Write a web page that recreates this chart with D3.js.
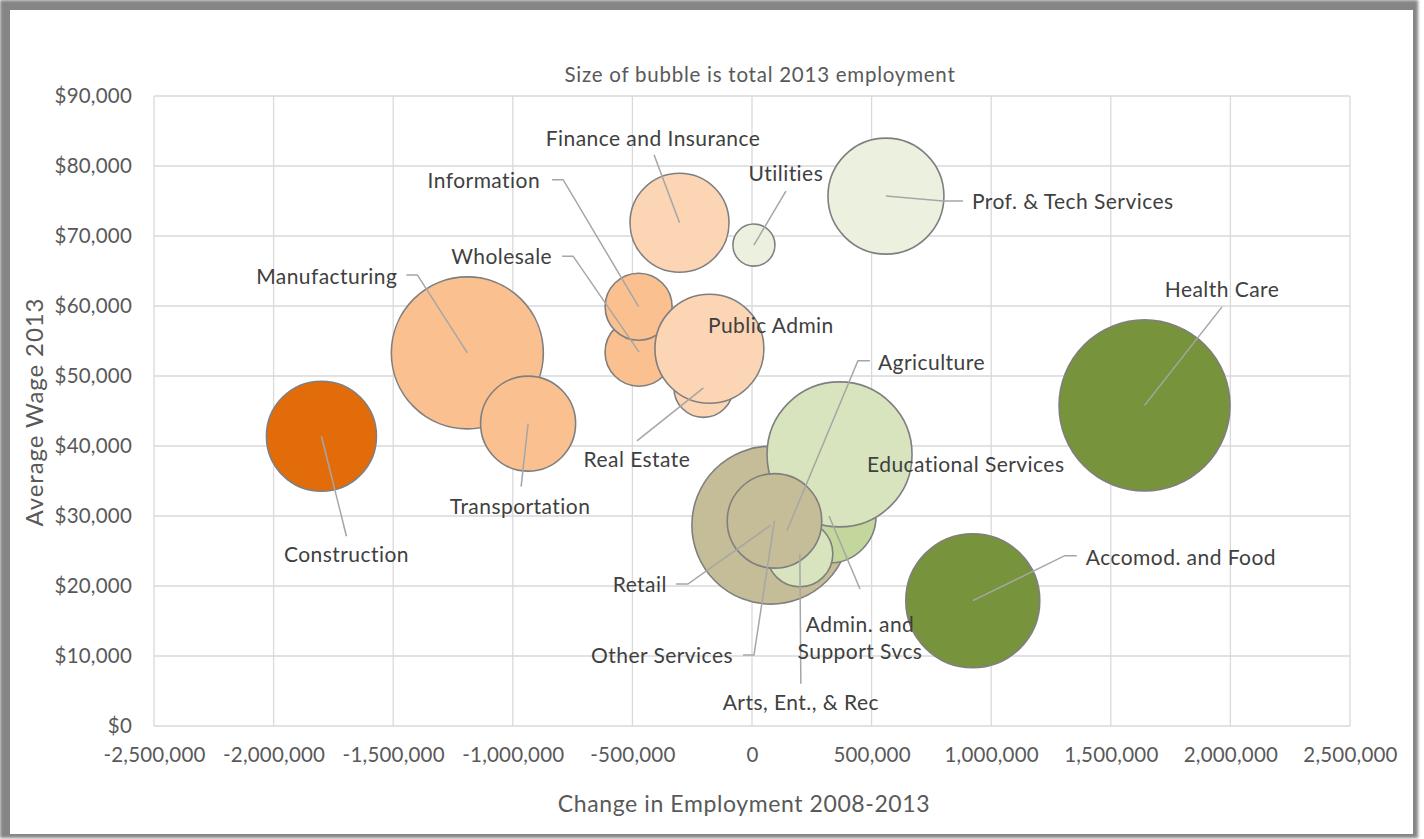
<!DOCTYPE html>
<html>
<head>
<meta charset="utf-8">
<script src="https://cdn.jsdelivr.net/npm/d3@7"></script>
<style>
  body { margin: 0; background: #fff; }
  svg text { font-family: "Lato", "Open Sans", sans-serif; }
</style>
</head>
<body>
<div id="chart"></div>
<script>

// data, in drawing order (back to front)
var industries = ["Construction", "Manufacturing", "Transportation", "Wholesale", "Information",
  "Real Estate", "Public Admin", "Finance and Insurance", "Utilities", "Prof. & Tech Services",
  "Agriculture", "Retail", "Admin. and Support Svcs", "Educational Services", "Arts, Ent., & Rec",
  "Other Services", "Health Care", "Accomod. and Food"];

var employmentChange = [-1800000, -1190000, -936000, -472000, -474000,
  -203000, -178000, -303000, 8000, 560000,
  146000, 79000, 322000, 366000, 200000,
  94000, 1641000, 923000];

var averageWage = [41400, 53300, 43200, 53400, 59900,
  48300, 53900, 71900, 68700, 75700,
  27900, 28700, 30000, 38800, 24600,
  29300, 45800, 17900];

// total 2013 employment (thousands)
var employment2013 = [7450, 14220, 5560, 2850, 2760,
  2140, 7310, 6030, 1090, 8280,
  1200, 15370, 5440, 12940, 2680,
  5500, 18000, 11050];

var xTicks = [-2500000, -2000000, -1500000, -1000000, -500000, 0, 500000, 1000000, 1500000, 2000000, 2500000];
var yTicks = [0, 10000, 20000, 30000, 40000, 50000, 60000, 70000, 80000, 90000];

// styles
var fillColors = {
  "Construction": "#e36c0a", "Manufacturing": "#fac090", "Transportation": "#fac090",
  "Wholesale": "#fac090", "Information": "#fac090", "Real Estate": "#fcd5b5",
  "Public Admin": "#fcd5b5", "Finance and Insurance": "#fcd5b5", "Utilities": "#ebf1de",
  "Prof. & Tech Services": "#ebf1de", "Agriculture": "#d7e4bd", "Retail": "#c4bd97",
  "Admin. and Support Svcs": "#c3d69b", "Educational Services": "#d7e4bd",
  "Arts, Ent., & Rec": "#d7e4bd", "Other Services": "#c4bd97",
  "Health Care": "#77933c", "Accomod. and Food": "#77933c"
};

// label placement: offsets (px) from the bubble centre; leader = bend points toward the label
var labelLayout = {
  "Construction": { dx: 25, dy: 126, anchor: "middle", leader: [[25, 100]] },
  "Manufacturing": { dx: -70, dy: -69, anchor: "end", leader: [[-50, -78], [-61, -78]] },
  "Transportation": { dx: -8, dy: 90, anchor: "middle", leader: [[-7, 63]] },
  "Wholesale": { dx: -87, dy: -88, anchor: "end", leader: [[-66, -96], [-77, -96]] },
  "Information": { dx: -98.5, dy: -119, anchor: "end", leader: [[-75.5, -127], [-86.5, -127]] },
  "Real Estate": { dx: -66.5, dy: 79, anchor: "middle", leader: [[-66.5, 53]] },
  "Public Admin": { dx: -1.5, dy: -15.5, anchor: "start", leader: [] },
  "Finance and Insurance": { dx: -26.5, dy: -77, anchor: "middle", leader: [[-25.5, -68]] },
  "Utilities": { dx: 32, dy: -64, anchor: "middle", leader: [[32, -54]] },
  "Prof. & Tech Services": { dx: 86, dy: 13, anchor: "start", leader: [[57, 5], [77, 5]] },
  "Agriculture": { dx: 91, dy: -161, anchor: "start", leader: [[71, -170], [83, -170]] },
  "Retail": { dx: -104, dy: 67, anchor: "end", leader: [[-83, 59], [-95, 59]] },
  "Admin. and Support Svcs": { dx: 31, dy: 116, anchor: "middle", leader: [[31, 73]], lines: ["Admin. and", "Support Svcs"] },
  "Educational Services": { dx: 27.5, dy: 17.5, anchor: "start", leader: [] },
  "Arts, Ent., & Rec": { dx: 1, dy: 156, anchor: "middle", leader: [[1, 130]] },
  "Other Services": { dx: -41.5, dy: 142, anchor: "end", leader: [[-20.5, 134], [-31.5, 134]] },
  "Health Care": { dx: 77.5, dy: -108.5, anchor: "middle", leader: [[77.5, -98.5]] },
  "Accomod. and Food": { dx: 113, dy: -36, anchor: "start", leader: [[92, -45], [104, -45]] }
};

var width = 1424, height = 839;
var plot = { left: 154, right: 1350, top: 96, bottom: 726 };

var svg = d3.select("#chart").append("svg")
  .attr("width", width).attr("height", height);

// frame with shadow
var defs = svg.append("defs");
defs.append("filter").attr("id", "blur")
  .attr("x", "-1%").attr("y", "-1%").attr("width", "102%").attr("height", "102%")
  .append("feGaussianBlur").attr("stdDeviation", 1.6);
svg.append("rect").attr("x", 0).attr("y", 0).attr("width", 1418).attr("height", 838)
  .attr("fill", "#858585").attr("filter", "url(#blur)");
svg.append("rect").attr("x", 10).attr("y", 10).attr("width", 1403).attr("height", 824)
  .attr("fill", "#ffffff");

var x = d3.scaleLinear().domain([-2500000, 2500000]).range([plot.left, plot.right]);
var y = d3.scaleLinear().domain([0, 90000]).range([plot.bottom, plot.top]);
var r = d3.scaleSqrt().domain([0, d3.max(employment2013)]).range([0, 85.5]);

var numFmt = d3.format(",");
function fmtNum(v) { return numFmt(v).replace("\u2212", "-"); }

// gridlines
var grid = svg.append("g");
grid.selectAll("line.vx").data(xTicks).enter().append("line")
  .attr("x1", function(d) { return x(d); }).attr("x2", function(d) { return x(d); })
  .attr("y1", plot.top).attr("y2", plot.bottom)
  .attr("stroke", "#d9d9d9").attr("stroke-width", 1.3);
grid.selectAll("line.hy").data(yTicks).enter().append("line")
  .attr("x1", plot.left).attr("x2", plot.right)
  .attr("y1", function(d) { return y(d); }).attr("y2", function(d) { return y(d); })
  .attr("stroke", "#d9d9d9").attr("stroke-width", 1.3);

// axes (labels only)
var xAxis = d3.axisBottom(x).tickValues(xTicks).tickFormat(fmtNum).tickSize(0).tickPadding(0);
var gx = svg.append("g").attr("transform", "translate(0," + (plot.bottom + 21) + ")").call(xAxis);
gx.select(".domain").remove();
gx.selectAll("text").attr("font-size", "20.5px").attr("fill", "#595959").attr("dy", "0.71em")
  .attr("letter-spacing", "0.2px");

var yAxis = d3.axisLeft(y).tickValues(yTicks).tickFormat(function(d) { return "$" + fmtNum(d); }).tickSize(0).tickPadding(0);
var gy = svg.append("g").attr("transform", "translate(" + (plot.left - 22) + ",0)").call(yAxis);
gy.select(".domain").remove();
gy.selectAll("text").attr("font-size", "20.5px").attr("fill", "#595959").attr("letter-spacing", "0.2px");

// bubbles
var rows = industries.map(function(name, i) {
  return { name: name, change: employmentChange[i], wage: averageWage[i], emp: employment2013[i] };
});

svg.append("g").selectAll("circle").data(rows).enter().append("circle")
  .attr("cx", function(d) { return x(d.change); })
  .attr("cy", function(d) { return y(d.wage); })
  .attr("r", function(d) { return r(d.emp); })
  .attr("fill", function(d) { return fillColors[d.name]; })
  .attr("stroke", "#7f7f7f").attr("stroke-width", 1.6);

// leader lines
var line = d3.line();
svg.append("g").selectAll("path").data(rows.filter(function(d) { return labelLayout[d.name].leader.length > 0; }))
  .enter().append("path")
  .attr("d", function(d) {
    var cx = x(d.change), cy = y(d.wage);
    var pts = [[cx, cy]].concat(labelLayout[d.name].leader.map(function(p) { return [cx + p[0], cy + p[1]]; }));
    return line(pts);
  })
  .attr("fill", "none").attr("stroke", "#a6a6a6").attr("stroke-width", 1.5);

// data labels
var labels = svg.append("g").selectAll("text").data(rows).enter().append("text")
  .attr("x", function(d) { return x(d.change) + labelLayout[d.name].dx; })
  .attr("y", function(d) { return y(d.wage) + labelLayout[d.name].dy; })
  .attr("text-anchor", function(d) { return labelLayout[d.name].anchor; })
  .attr("font-size", "21px").attr("letter-spacing", "0.45px").attr("fill", "#404040");
labels.each(function(d) {
  var t = d3.select(this);
  var lines = labelLayout[d.name].lines || [d.name];
  lines.forEach(function(s, i) {
    t.append("tspan").attr("x", t.attr("x")).attr("dy", i === 0 ? 0 : 27).text(s);
  });
});

// titles
svg.append("text").attr("x", 760).attr("y", 82).attr("text-anchor", "middle")
  .attr("font-size", "20.5px").attr("letter-spacing", "0.75px").attr("fill", "#595959")
  .text("Size of bubble is total 2013 employment");
svg.append("text").attr("x", 744).attr("y", 812).attr("text-anchor", "middle")
  .attr("font-size", "23px").attr("letter-spacing", "0.6px").attr("fill", "#595959")
  .text("Change in Employment 2008-2013");
svg.append("text").attr("transform", "translate(43,412) rotate(-90)").attr("text-anchor", "middle")
  .attr("font-size", "24px").attr("letter-spacing", "0.9px").attr("fill", "#595959")
  .text("Average Wage 2013");

</script>
</body>
</html>
